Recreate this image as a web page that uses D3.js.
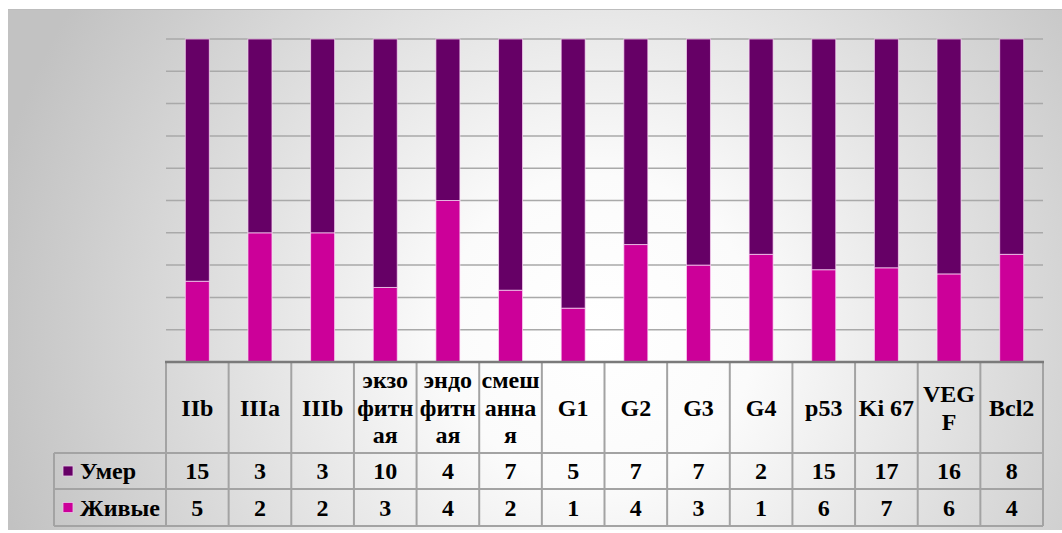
<!DOCTYPE html>
<html>
<head>
<meta charset="utf-8">
<script src="https://cdn.jsdelivr.net/npm/d3@7"></script>
<style>
  body { margin: 0; background: #fff; }
  svg { display: block; }
</style>
</head>
<body>
<div id="chart"></div>
<script>
// categories (line breaks as in the table header)
let categories = ["IIb", "IIIa", "IIIb", "экзо\nфитн\nая", "эндо\nфитн\nая", "смеш\nанна\nя",
  "G1", "G2", "G3", "G4", "p53", "Ki 67", "VEG\nF", "Bcl2"];
let dead = [15, 3, 3, 10, 4, 7, 5, 7, 7, 2, 15, 17, 16, 8];
let alive = [5, 2, 2, 3, 4, 2, 1, 4, 3, 1, 6, 7, 6, 4];
let seriesNames = ["Умер", "Живые"];
let seriesColors = ["#660066", "#cc0099"];

let W = 1062, H = 533;
let plotLeft = 166, plotRight = 1043, plotTop = 39, plotBottom = 362;
let rowTops = [362, 453, 489, 526];
let legendLeft = 54;

let svg = d3.select("#chart")
  .append("svg")
  .attr("width", W)
  .attr("height", H);

// background gradient
let defs = svg.append("defs");
let grad = defs.append("radialGradient")
  .attr("id", "bg")
  .attr("gradientUnits", "userSpaceOnUse")
  .attr("cx", 600).attr("cy", 330).attr("r", 620);
grad.append("stop").attr("offset", 0).attr("stop-color", "#ffffff");
grad.append("stop").attr("offset", 0.25).attr("stop-color", "#fbfbfb");
grad.append("stop").attr("offset", 0.85).attr("stop-color", "#cdcdcd");
grad.append("stop").attr("offset", 1).attr("stop-color", "#c2c2c2");

svg.append("rect")
  .attr("x", 8).attr("y", 9)
  .attr("width", W - 8).attr("height", 521)
  .style("fill", "url(#bg)");
svg.append("line")
  .attr("x1", 8).attr("x2", W)
  .attr("y1", 9.5).attr("y2", 9.5)
  .attr("stroke", "#bdbdbd")
  .style("stroke-width", 1);

let idx = d3.range(categories.length);

let x = d3.scaleBand()
  .domain(idx)
  .range([plotLeft, plotRight])
  .paddingInner(0.617)
  .paddingOuter(0.3085);

let col = d3.scaleBand()
  .domain(idx)
  .range([plotLeft, plotRight]);

let y = d3.scaleLinear()
  .domain([0, 1])
  .range([plotBottom, plotTop]);

// gridlines
svg.append("g")
  .selectAll("line")
  .data(y.ticks(10).slice(1))
  .enter()
  .append("line")
  .attr("x1", plotLeft).attr("x2", plotRight)
  .attr("y1", d => y(d)).attr("y2", d => y(d))
  .attr("stroke", "#a9a9a9")
  .style("stroke-width", 1.5);

// stacked 100% bars
let rows = idx.map(i => ({ i: i, alive: alive[i], dead: dead[i] }));
let stack = d3.stack()
  .keys(["alive", "dead"])
  .offset(d3.stackOffsetExpand)(rows);
let colorOf = { alive: seriesColors[1], dead: seriesColors[0] };

svg.append("g")
  .selectAll("g")
  .data(stack)
  .enter()
  .append("g")
  .style("fill", d => colorOf[d.key])
  .selectAll("rect")
  .data(d => d)
  .enter()
  .append("rect")
  .attr("x", d => x(d.data.i))
  .attr("width", x.bandwidth())
  .attr("y", d => y(d[1]))
  .attr("height", d => y(d[0]) - y(d[1]))
  .attr("stroke", "rgba(255,220,250,0.7)")
  .style("stroke-width", 1);

// data table
let tbl = svg.append("g");
let lineColor = "#a3a3a3";

// horizontal lines
tbl.selectAll("line.h")
  .data(rowTops.slice(1))
  .enter()
  .append("line")
  .attr("x1", legendLeft).attr("x2", plotRight)
  .attr("y1", d => d).attr("y2", d => d)
  .attr("stroke", lineColor)
  .style("stroke-width", 2);

// vertical lines
tbl.selectAll("line.v")
  .data(idx.map(i => col(i)).concat([plotRight]))
  .enter()
  .append("line")
  .attr("x1", d => d).attr("x2", d => d)
  .attr("y1", rowTops[0]).attr("y2", rowTops[3])
  .attr("stroke", lineColor)
  .style("stroke-width", 2);

tbl.append("line")
  .attr("x1", legendLeft).attr("x2", legendLeft)
  .attr("y1", rowTops[1]).attr("y2", rowTops[3])
  .attr("stroke", lineColor)
  .style("stroke-width", 2);

// axis line
svg.append("line")
  .attr("x1", plotLeft - 1).attr("x2", plotRight + 1)
  .attr("y1", plotBottom).attr("y2", plotBottom)
  .attr("stroke", "#7a7a7a")
  .style("stroke-width", 2.5);

let font = "'Liberation Serif', 'Times New Roman', serif";
let fs = 24, lh = 27.5;

// header labels
let headCy = (rowTops[0] + rowTops[1]) / 2;
tbl.selectAll("text.head")
  .data(idx)
  .enter()
  .append("text")
  .attr("text-anchor", "middle")
  .style("font-family", font)
  .style("font-weight", "bold")
  .style("font-size", fs + "px")
  .each(function (i) {
    let lines = categories[i].split("\n");
    let t = d3.select(this);
    lines.forEach((s, k) => {
      t.append("tspan")
        .attr("x", col(i) + col.bandwidth() / 2)
        .attr("y", headCy + (k - (lines.length - 1) / 2) * lh)
        .attr("dy", "0.35em")
        .text(s);
    });
  });

// value rows
let series = [dead, alive];
series.forEach((vals, r) => {
  let cy = (rowTops[r + 1] + rowTops[r + 2]) / 2;
  tbl.append("g")
    .selectAll("text")
    .data(vals)
    .enter()
    .append("text")
    .attr("x", (d, i) => col(i) + col.bandwidth() / 2)
    .attr("y", cy)
    .attr("dy", "0.35em")
    .attr("text-anchor", "middle")
    .style("font-family", font)
    .style("font-weight", "bold")
    .style("font-size", fs + "px")
    .text(d => d);

  // legend key
  tbl.append("rect")
    .attr("x", 63).attr("y", cy - 5)
    .attr("width", 10).attr("height", 10)
    .style("fill", seriesColors[r])
    .attr("stroke", "#e8c8e8")
    .style("stroke-width", 0.8);
  tbl.append("text")
    .attr("x", 80)
    .attr("y", cy)
    .attr("dy", "0.35em")
    .style("font-family", font)
    .style("font-weight", "bold")
    .style("font-size", fs + "px")
    .text(seriesNames[r]);
});
</script>
</body>
</html>
